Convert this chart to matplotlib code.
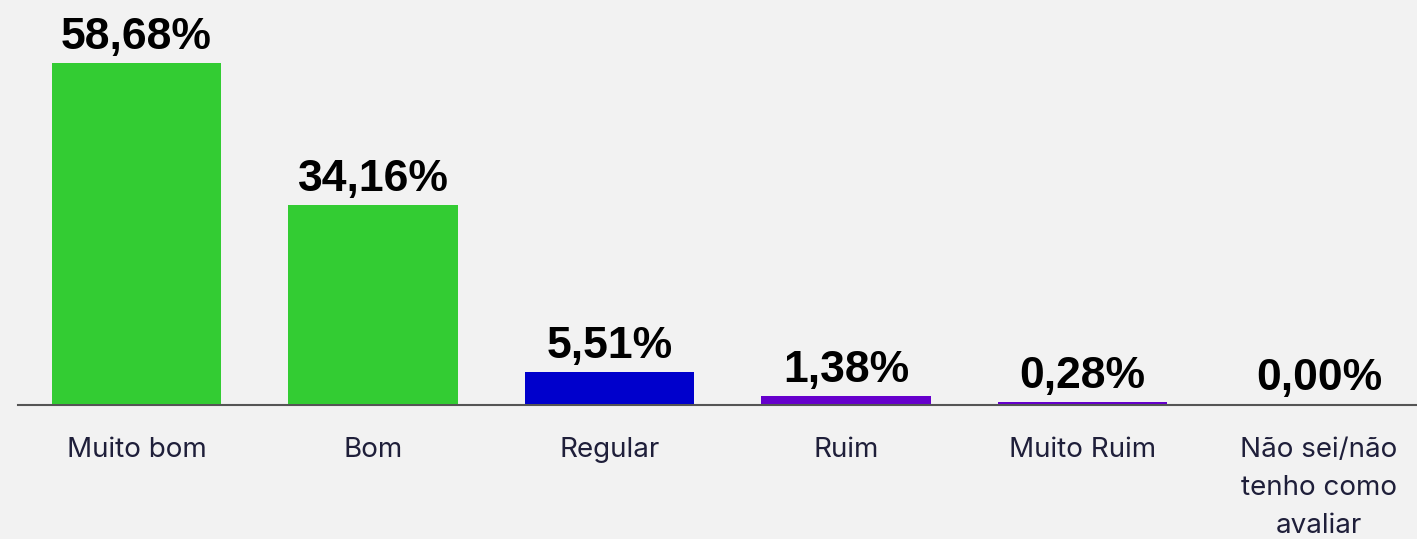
import matplotlib.pyplot as plt

categorias = ['Muito bom', 'Bom', 'Regular', 'Ruim', 'Muito Ruim',
              'Não sei/não\ntenho como\navaliar']
valores = [58.68, 34.16, 5.51, 1.38, 0.28, 0.00]
rotulos = ['58,68%', '34,16%', '5,51%', '1,38%', '0,28%', '0,00%']
cores = ['#33CC33', '#33CC33', '#0000CC', '#6600CC', '#6600CC', '#6600CC']

fundo = '#F2F2F2'

fig = plt.figure(figsize=(14.17, 5.39), dpi=100, facecolor=fundo)
ax = fig.add_axes([18 / 1417, 134 / 539, 1399 / 1417, 405 / 539])
ax.set_facecolor(fundo)

x = list(range(len(categorias)))
ax.bar(x, valores, width=0.715, color=cores, zorder=3)

for xi, v, r in zip(x, valores, rotulos):
    ax.annotate(r, (xi, v), xytext=(0, 10), textcoords='offset points',
                ha='center', va='baseline', fontsize=32, fontweight='bold',
                family='Liberation Sans', color='black')

ax.set_xlim(-0.501, 5.414)
ax.set_ylim(-0.25, 69.5)
ax.set_xticks(x)
ax.set_xticklabels(categorias, fontsize=20, family='Inter', color='#1F1F3A',
                   linespacing=1.6)
ax.tick_params(axis='x', length=0, pad=23)
ax.set_yticks([])
for s in ['top', 'right', 'left']:
    ax.spines[s].set_visible(False)
ax.spines['bottom'].set_color('#555555')
ax.spines['bottom'].set_linewidth(1.5)

fig.savefig('out.png', dpi=100, facecolor=fundo)
